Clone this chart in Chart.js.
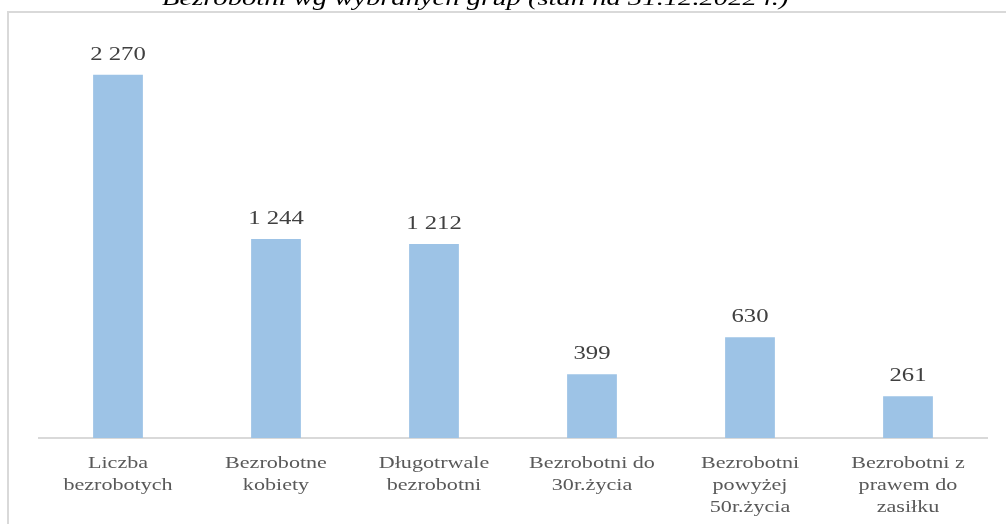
<!DOCTYPE html>
<html>
<head>
<meta charset="utf-8">
<script src="https://cdn.jsdelivr.net/npm/chart.js@4"></script>
<style>
  html, body { margin: 0; padding: 0; background: #fff; }
  #wrap { width: 1006px; height: 524px; position: relative; }
</style>
</head>
<body>
<div id="wrap"><canvas id="chart" width="1006" height="524"></canvas></div>
<script>
// === Data ===
const categories = [
  ["Liczba", "bezrobotych"],
  ["Bezrobotne", "kobiety"],
  ["Długotrwale", "bezrobotni"],
  ["Bezrobotni do", "30r.życia"],
  ["Bezrobotni", "powyżej", "50r.życia"],
  ["Bezrobotni z", "prawem do", "zasiłku"]
];
const values = [2270, 1244, 1212, 399, 630, 261];
const titleText = "Bezrobotni wg wybranych grup (stan na 31.12.2022 r.)";

const STRETCH = 1.3; // the reference text is drawn horizontally stretched
const fmt = (v) => String(v).replace(/\B(?=(\d{3})+(?!\d))/g, " ");

// draw text stretched horizontally around its x position
function stretchedText(ctx, text, x, y) {
  ctx.save();
  ctx.translate(x, y);
  ctx.scale(STRETCH, 1);
  ctx.fillText(text, 0, 0);
  ctx.restore();
}

// === Frame and cut-off title ===
const framePlugin = {
  id: "frame",
  beforeDraw(chart) {
    const ctx = chart.ctx;
    ctx.save();
    ctx.strokeStyle = "#d9d9d9";
    ctx.lineWidth = 2;
    ctx.beginPath();
    ctx.moveTo(1006, 12);
    ctx.lineTo(8, 12);
    ctx.lineTo(8, 524);
    ctx.stroke();
    ctx.fillStyle = "#000";
    ctx.font = "italic 22px 'Liberation Serif', serif";
    ctx.textBaseline = "alphabetic";
    ctx.textAlign = "left";
    stretchedText(ctx, titleText, 162, 5);
    ctx.restore();
  }
};

// === Value labels above bars + category labels under axis ===
const labelPlugin = {
  id: "valueLabels",
  afterDatasetsDraw(chart) {
    const ctx = chart.ctx;
    const meta = chart.getDatasetMeta(0);
    const xScale = chart.scales.x;
    ctx.save();
    ctx.textAlign = "center";
    ctx.textBaseline = "alphabetic";
    ctx.fillStyle = "#404040";
    ctx.font = "19px 'Liberation Serif', serif";
    meta.data.forEach((bar, i) => {
      stretchedText(ctx, fmt(values[i]), bar.x, bar.y - 15);
    });
    ctx.fillStyle = "#595959";
    ctx.font = "17px 'Liberation Serif', serif";
    categories.forEach((lines, i) => {
      const x = xScale.getPixelForValue(i);
      lines.forEach((line, j) => {
        stretchedText(ctx, line, x, xScale.top + 30 + j * 22);
      });
    });
    ctx.restore();
  }
};

new Chart(document.getElementById("chart"), {
  type: "bar",
  data: {
    labels: categories,
    datasets: [{
      data: values,
      backgroundColor: "#9dc3e6",
      barPercentage: 0.42,
      categoryPercentage: 0.75
    }]
  },
  options: {
    responsive: false,
    animation: false,
    events: [],
    layout: { padding: { left: 39, right: 19, top: 38, bottom: 0 } },
    plugins: { legend: { display: false }, tooltip: { enabled: false } },
    scales: {
      x: {
        grid: { display: false, drawTicks: false },
        border: { color: "#d9d9d9", width: 2 },
        ticks: { display: false },
        afterFit(scale) { scale.height = 86; }
      },
      y: {
        display: false,
        min: 0,
        max: 2500
      }
    }
  },
  plugins: [framePlugin, labelPlugin]
});
</script>
</body>
</html>
